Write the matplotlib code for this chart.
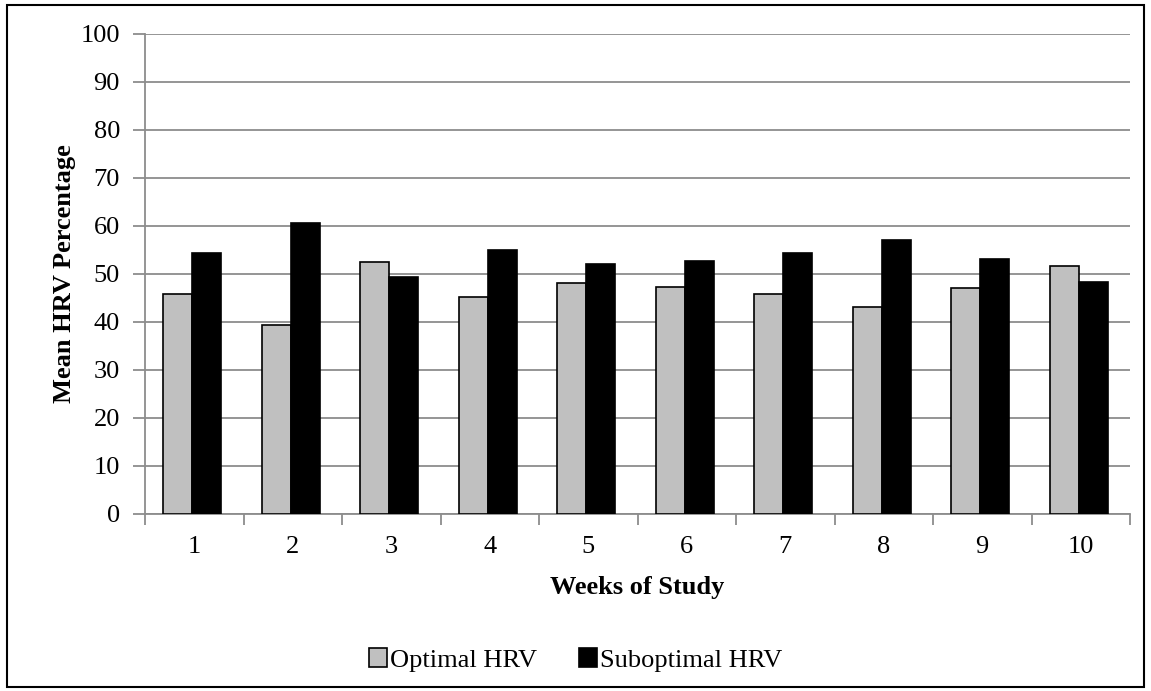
import numpy as np
import matplotlib.pyplot as plt
from matplotlib.patches import Rectangle

weeks = ["1", "2", "3", "4", "5", "6", "7", "8", "9", "10"]
optimal = [45.9, 39.4, 52.5, 45.2, 48.2, 47.3, 45.8, 43.2, 47.0, 51.7]
suboptimal = [54.3, 60.7, 49.4, 55.0, 52.0, 52.8, 54.3, 57.0, 53.1, 48.4]

plt.rcParams['font.family'] = ['Liberation Serif', 'DejaVu Serif']
fs = 19

fig = plt.figure(figsize=(11.51, 6.91), dpi=100)
ax = fig.add_axes([145/1151, 1-514/691, 985/1151, 480/691])

x = np.arange(len(weeks))
w = 0.295
ax.bar(x - w/2 - 0.02, optimal, w, color="#c0c0c0", edgecolor="black", linewidth=1.2, label="Optimal HRV", zorder=3)
ax.bar(x + w/2 - 0.02, suboptimal, w, color="black", edgecolor="black", linewidth=1.2, label="Suboptimal HRV", zorder=3)

ax.set_xlim(-0.5, len(weeks) - 0.5)
ax.set_ylim(0, 100)
ax.set_yticks(range(0, 101, 10))
ax.yaxis.grid(True, color="#8c8c8c", linewidth=1.3, zorder=0)
ax.set_axisbelow(True)

ax.set_xticks(x)
ax.set_xticklabels(weeks)
ax.set_xticks(np.arange(-0.5, len(weeks)), minor=True)
ax.tick_params(axis="x", which="major", length=0, pad=16, labelsize=fs)
ax.tick_params(axis="x", which="minor", length=8, color="#8c8c8c", width=1.3, direction="out")
ax.tick_params(axis="y", length=9, color="#8c8c8c", width=1.3, pad=9, labelsize=fs)

for s in ["top", "right"]:
    ax.spines[s].set_visible(False)
for s in ["left", "bottom"]:
    ax.spines[s].set_color("#8c8c8c")
    ax.spines[s].set_linewidth(1.3)

ax.set_xlabel("Weeks of Study", fontsize=fs, fontweight="bold", labelpad=13)
ax.set_ylabel("Mean HRV Percentage", fontsize=fs, fontweight="bold", labelpad=3)

fig.legend(loc="center", bbox_to_anchor=(0.5, 1-660/691), ncol=2, frameon=False,
           fontsize=fs, handlelength=0.7, handleheight=0.7, handletextpad=0.1, columnspacing=1.6)

fig.patches.append(Rectangle((7/1151, 1-687/691), 1137/1151, 682/691, transform=fig.transFigure,
                             fill=False, edgecolor="black", linewidth=1.5))

fig.savefig("out.png", dpi=100)
